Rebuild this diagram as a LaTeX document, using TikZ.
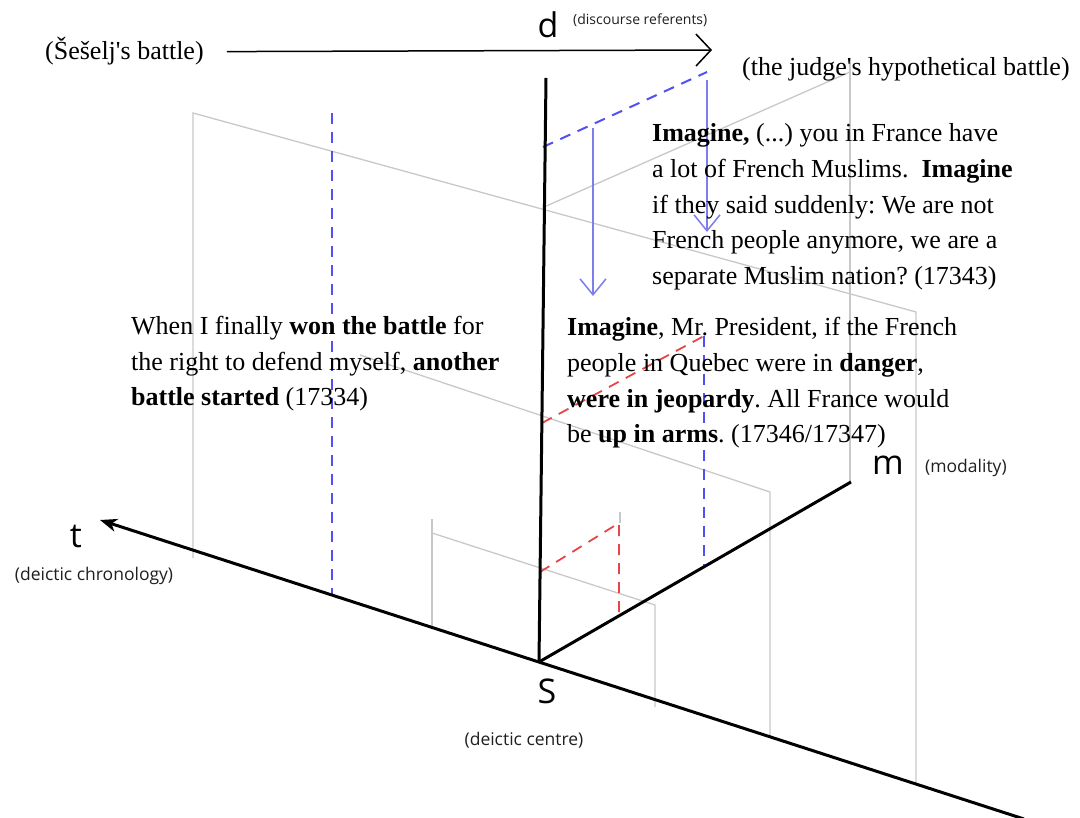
\documentclass[tikz,border=0pt]{standalone}
\usepackage{fontspec}
\setmainfont{Liberation Serif}
\newfontfamily\axisfont{Open Sans}
\usetikzlibrary{arrows.meta}
\frenchspacing

\definecolor{guidegrey}{RGB}{200,200,200}
\definecolor{dashblue}{RGB}{80,80,245}
\definecolor{arrowblue}{RGB}{125,125,235}
\definecolor{dashred}{RGB}{230,70,70}

\tikzset{
  axisline/.style={line width=3pt, black},
  guide/.style={line width=1.3pt, draw=guidegrey},
  bluedash/.style={line width=2pt, draw=dashblue, dash pattern=on 11pt off 8pt},
  reddash/.style={line width=1.8pt, draw=dashred, dash pattern=on 11pt off 8pt},
  bluearrow/.style={line width=1.5pt, draw=arrowblue, -{Straight Barb[length=16pt,width=26pt]}},
  % multi-line nodes are placed by the baseline of their last line
  quote/.style={anchor=base west, inner sep=0, align=left, font=\fontsize{26}{35.6}\selectfont},
  caption/.style={inner sep=0, font=\fontsize{26}{30}\selectfont},
  axislabel/.style={inner sep=0, anchor=base, font=\axisfont\fontsize{34}{36}\selectfont},
  axisnote/.style={inner sep=0, text=black!88, font=\axisfont\fontsize{17.5}{20}\selectfont},
}

\begin{document}
\begin{tikzpicture}[x=1pt,y=-1pt]
\useasboundingbox (0,0) rectangle (1080,818);

% axis end points
\coordinate (S) at (539,662);
\coordinate (tTip) at (100,520);
\coordinate (tEnd) at (1024,819);
\coordinate (dTop) at (546,78);
\coordinate (mEnd) at (851,482);

% light grey planes
\draw[guide] (193,558) -- (193,113) -- (916,312) -- (916,783);
\draw[guide] (544,207) -- (850,72);
\draw[guide] (850,58) -- (850,482);
\draw[guide] (360,355) -- (770,492) -- (770,737);
\draw[guide] (432,519) -- (432,626);
\draw[guide] (432,533) -- (655,605) -- (655,707);
\draw[guide] (620,512) -- (620,523);

% blue projections
\draw[bluedash] (332,113) -- (332,594);
\draw[bluedash] (543,147) -- (707,72);
\draw[bluedash] (704,336) -- (704,568);
\coordinate (aTop1) at (707,80);
\coordinate (aTip1) at (707,232);
\coordinate (aTop2) at (593,128);
\coordinate (aTip2) at (593,296);
\draw[bluearrow] (aTop1) -- (aTip1);
\draw[bluearrow] (aTop2) -- (aTip2);

% red projections
\draw[reddash] (542,423) -- (704,336);
\draw[reddash] (540,572) -- (619,523) -- (619,617);

% axes
\draw[axisline, -{Stealth[length=17pt,width=13pt,inset=5pt]}] (tEnd) -- (tTip);
\draw[axisline] (S) -- (dTop);
\draw[axisline] (S) -- (mEnd);

% axis labels
\node[axislabel] (dlab) at (548,38) {d};
\node[axisnote, anchor=base west, font=\axisfont\fontsize{14}{16}\selectfont] (dnote) at (573,25) {(discourse referents)};
\node[axislabel] (tlab) at (76,547) {t};
\node[axisnote, anchor=base] (tnote) at (94,580) {(deictic chronology)};
\node[axislabel] (mlab) at (888,475) {m};
\node[axisnote, anchor=base west] (mnote) at (925,472) {(modality)};
\node[axislabel] (slab) at (547,703) {S};
\node[axisnote, anchor=base] (snote) at (524,745) {(deictic centre)};

% the two battles
\node[caption, anchor=base west] (own) at (45,60) {(Šešelj\textquotesingle s battle)};
\node[caption, anchor=base west] (judge) at (742,76) {(the judge\textquotesingle s hypothetical battle)};
\coordinate (shiftTip) at (712,50);
\draw[line width=1.5pt, -{Straight Barb[length=15pt,width=32pt]}] ([xshift=23pt]own.east) -- (shiftTip);

% quotations
\node[quote] (q1) at (652,284.4) {\textbf{Imagine,} (...) you in France have\\
a lot of French Muslims.\ \ \textbf{Imagine}\\
if they said suddenly: We are not\\
French people anymore, we are a\\
separate Muslim nation? (17343)};

\node[quote] (q2) at (567,442.8) {\textbf{Imagine}, Mr. President, if the French\\
people in Quebec were in \textbf{danger},\\
\textbf{were in jeopardy}. All France would\\
be \textbf{up in arms}. (17346/17347)};

\node[quote] (q3) at (131,406) {When I finally \textbf{won the battle} for\\
the right to defend myself, \textbf{another}\\
\textbf{battle started} (17334)};
\end{tikzpicture}
\end{document}
